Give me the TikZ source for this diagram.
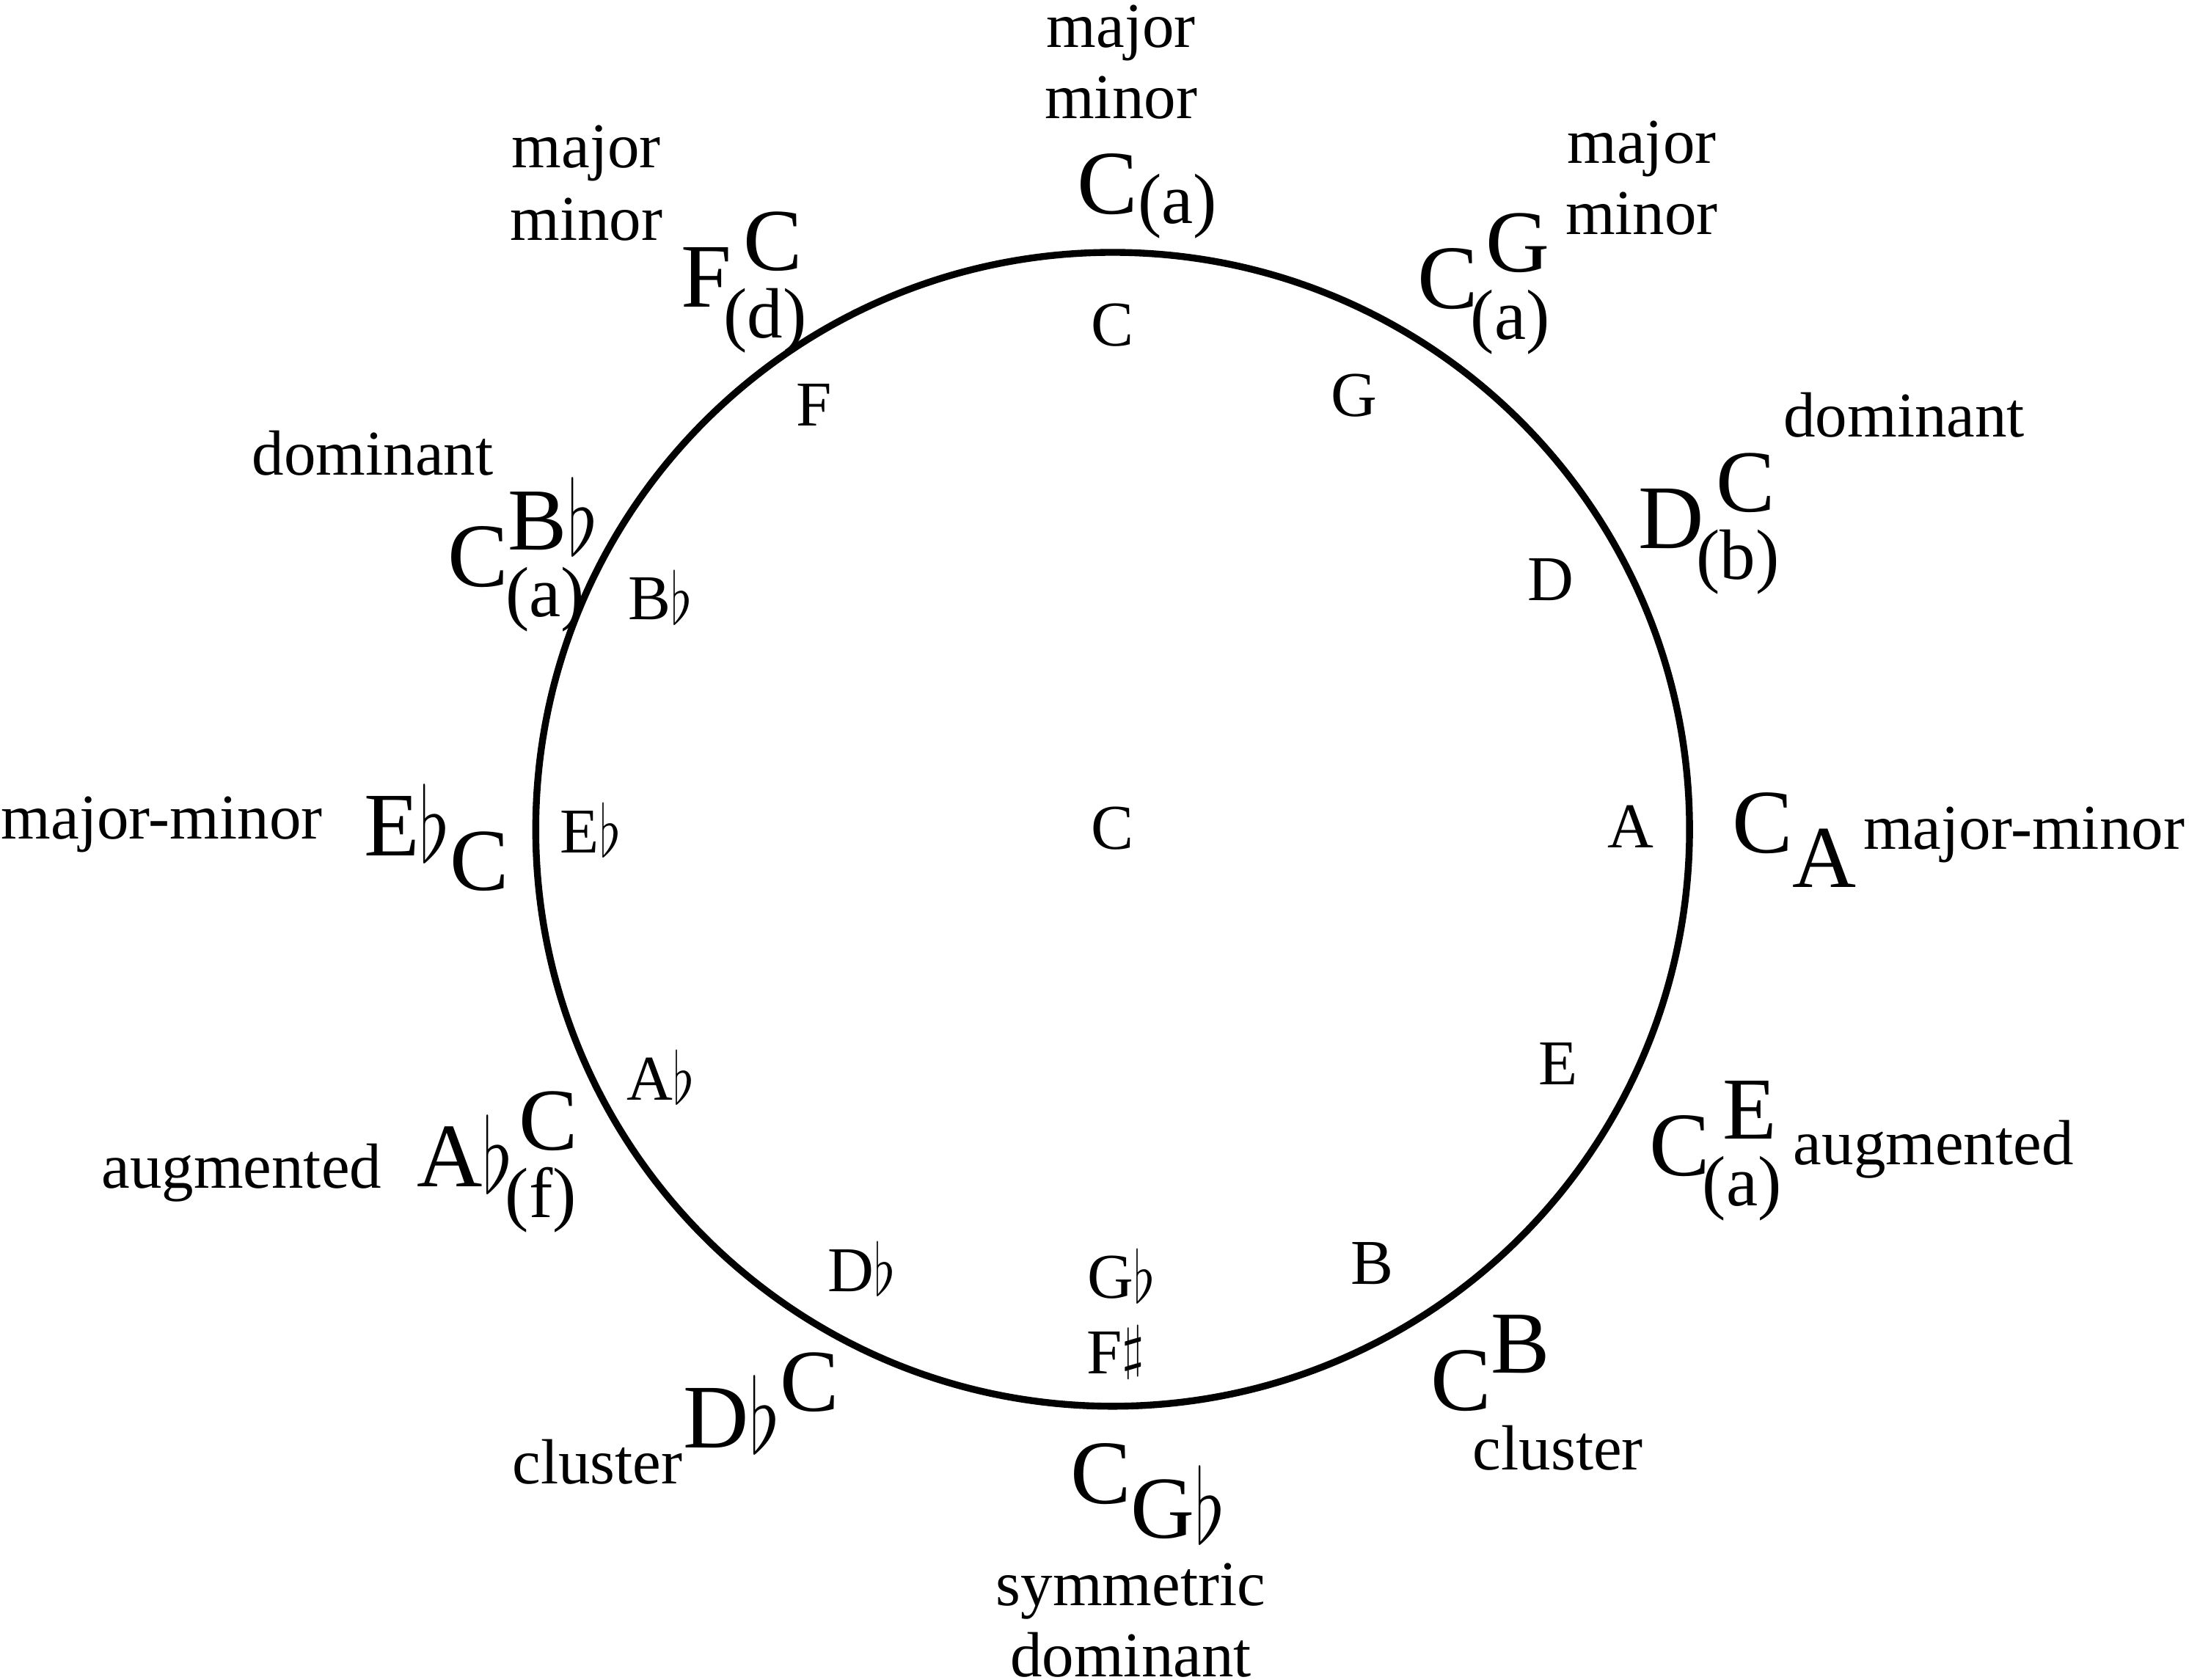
\documentclass[tikz,border=0pt]{standalone}
\usepackage{fontspec}
\usepackage{graphicx}
\setmainfont{Liberation Serif}
\newcommand\fnote{\fontsize{13}{13}\selectfont}
\newcommand\fbig{\fontsize{18.5}{18.5}\selectfont}
\newcommand\fsup{\fontsize{18}{18}\selectfont}
\newcommand\fsub{\fontsize{14.5}{14.5}\selectfont}
\newcommand\flt{\raisebox{-0.06em}{\scalebox{0.95}[1.22]{$\flat$}}}
\newcommand\shp{\raisebox{0.1em}{$\sharp$}}
% base letter with a raised and a lowered part stacked over each other
\newcommand\chord[3]{{\fbig #1}{\fsup\vtop{\baselineskip=0pt\lineskip=0pt\lineskiplimit=-\maxdimen
  \halign{\hfil##\hfil\cr\raisebox{7.5pt}{#2}\cr{\fsub\raisebox{-6.2pt}{\kern-1.6pt#3\kern1.6pt}}\cr}}}}
\newcommand\chordlow[2]{{\fbig #1}{\fsup\raisebox{-7pt}{#2}}}
\begin{document}
\begin{tikzpicture}[x=0.01cm,y=-0.01cm]
 \tikzset{note/.style={inner sep=0pt, anchor=base, font=\fnote}}
 \tikzset{lab/.style={inner sep=0pt, anchor=base, font=\fnote}}
 \tikzset{chd/.style={inner sep=0pt, anchor=base west}}
  \useasboundingbox (0,0) rectangle (1568,1203);
  \draw[line width=1.4pt] (797,594) circle (4.13cm);
  % notes inside the circle
  \node[note] (nC) at (797,248) {C};
  \node[note] (nG) at (970,298) {G};
  \node[note] (nD) at (1111,430) {D};
  \node[note] (nA) at (1168,607) {A};
  \node[note] (nE) at (1116,777) {E};
  \node[note] (nB) at (983,920) {B};
  \node[note] (nGf) at (803,930) {G\flt};
  \node[note] (nFs) at (799,984) {F\shp};
  \node[note] (nDf) at (617,925) {D\flt};
  \node[note] (nAf) at (473,788) {A\flt};
  \node[note] (nEf) at (423,611) {E\flt};
  \node[note] (nBf) at (473,444) {B\flt};
  \node[note] (nF) at (583,305) {F};
  \node[note] (ctr) at (797,608) {C};
  % chords outside
  \node[chd] (cTop) at (771,153) {{\fbig C}{\fsub\raisebox{-2pt}{(a)}}};
  \node[chd] (cG) at (1015,221) {\chord{C}{G}{(a)}};
  \node[chd] (cD) at (1173,393) {\chord{D}{C}{(b)}};
  \node[chd] (cA) at (1240,611) {\chordlow{C}{A}};
  \node[chd] (cE) at (1181,842) {\chord{C}{E}{(a)}};
  \node[chd] (cB) at (1024,1010) {\chord{C}{B}{}};
  \node[chd] (cGf) at (766,1077) {\chordlow{C}{G\flt}};
  \node[chd] (cDf) at (489,1037) {\chord{D\flt}{C}{}};
  \node[chd] (cAf) at (298,850) {\chord{A\flt}{C}{(f)}};
  \node[chd] (cEf) at (260,613) {\chordlow{E\flt}{C}};
  \node[chd] (cBf) at (320,420) {\chord{C}{B\flt}{(a)}};
  \node[chd] (cF) at (487,220) {\chord{F}{C}{(d)}};
  % chord names
  \node[lab] (lTop1) at (803,34) {major};
  \node[lab] (lTop2) at (803,85) {minor};
  \node[lab] (lG1) at (1176,117) {major};
  \node[lab] (lG2) at (1176,168) {minor};
  \node[lab] (lD) at (1364,313) {dominant};
  \node[lab,anchor=base west] (lA) at (1334,608) {major-minor};
  \node[lab] (lE) at (1385,834) {augmented};
  \node[lab] (lB) at (1116,1053) {cluster};
  \node[lab] (lGf1) at (810,1150) {symmetric};
  \node[lab] (lGf2) at (810,1201) {dominant};
  \node[lab] (lDf) at (428,1063) {cluster};
  \node[lab] (lAf) at (173,851) {augmented};
  \node[lab] (lEf) at (116,601) {major-minor};
  \node[lab] (lBf) at (267,340) {dominant};
  \node[lab] (lF1) at (420,120) {major};
  \node[lab] (lF2) at (420,172) {minor};
\end{tikzpicture}
\end{document}
